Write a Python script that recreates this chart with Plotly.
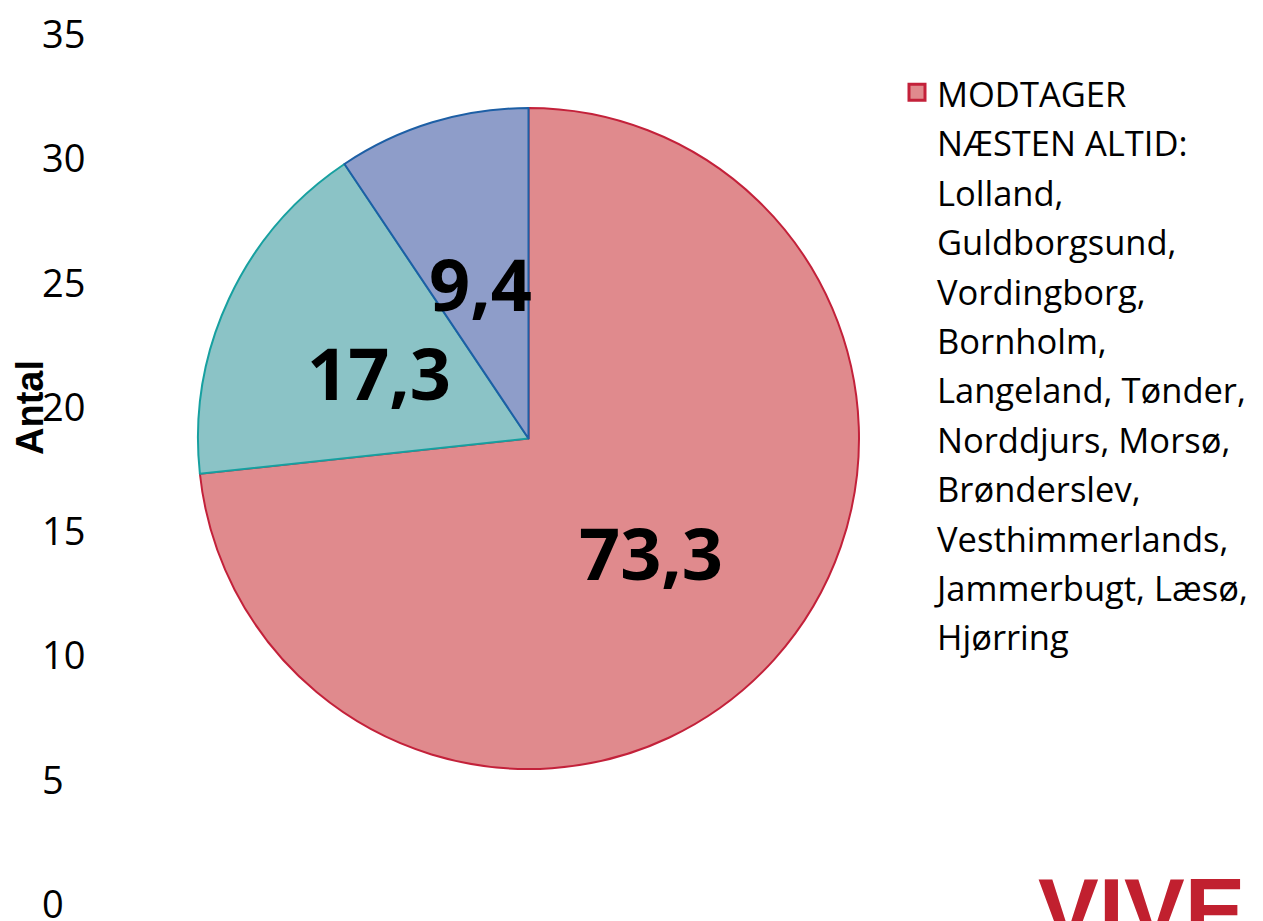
import math
import plotly.graph_objects as go

# ---- data ----
slice_labels = ["MODTAGER NÆSTEN ALTID", "Kategori 2", "Kategori 3"]
slice_values = [73.3, 17.3, 9.4]
slice_text = ["73,3", "17,3", "9,4"]
slice_colors = ["#E08A8D", "#8BC3C6", "#8E9DC9"]
slice_lines = ["#C3213A", "#17A0A0", "#1D5FA5"]

legend_lines = [
    "MODTAGER", "NÆSTEN ALTID:", "Lolland,", "Guldborgsund,", "Vordingborg,",
    "Bornholm,", "Langeland, Tønder,", "Norddjurs, Morsø,", "Brønderslev,",
    "Vesthimmerlands,", "Jammerbugt, Læsø,", "Hjørring",
]

y_ticks = [0, 5, 10, 15, 20, 25, 30, 35]
y_title = "Antal"
logo_text = "VIVE"

# ---- geometry (page pixels; page body has an 8px margin) ----
OFF = 8
W, H = 1255, 913
M_T, M_B = 25, 18
PH = H - M_T - M_B
cx, cy, R = 528.5, 438.5, 330.5


def px_x(p):
    return (p - OFF) / W


def px_y(p):
    return (OFF + H - M_B - p) / PH


fig = go.Figure()

fig.add_trace(go.Pie(
    labels=slice_labels,
    values=slice_values,
    sort=False,
    direction="clockwise",
    rotation=0,
    textinfo="none",
    hoverinfo="label+value",
    showlegend=False,
    marker=dict(colors=slice_colors, line=dict(color=slice_lines, width=2)),
    domain=dict(x=[px_x(cx - R), px_x(cx + R)], y=[px_y(cy + R), px_y(cy - R)]),
))

legend_name = "<br>".join(
    f'<span style="font-size:34.5px">{ln}</span>' for ln in legend_lines
)
fig.add_trace(go.Scatter(
    x=[None], y=[None], mode="markers", name=legend_name, showlegend=True,
    marker=dict(symbol="square", size=16, color=slice_colors[0],
                line=dict(color=slice_lines[0], width=3)),
))

annotations = []
# slice value labels, at half radius along each slice bisector
total = sum(slice_values)
cum = 0.0
for v, t in zip(slice_values, slice_text):
    mid = (cum + v / 2) / total * 2 * math.pi
    cum += v
    lx = cx + 0.5 * R * math.sin(mid)
    ly = cy - 0.5 * R * math.cos(mid) + 3
    annotations.append(dict(
        x=px_x(lx), y=px_y(ly), xref="paper", yref="paper", text=t,
        showarrow=False, xanchor="center", yanchor="middle",
        font=dict(family="Open Sans", size=72, color="black", weight="bold"),
    ))

# y tick labels (left aligned)
for v in y_ticks:
    annotations.append(dict(
        x=px_x(40), y=v, xref="paper", yref="y", text=str(v),
        showarrow=False, xanchor="left", yanchor="middle",
        font=dict(family="Open Sans", size=38, color="black"),
    ))

annotations.append(dict(
    x=px_x(30), y=px_y(408), xref="paper", yref="paper", text=y_title,
    textangle=-90, showarrow=False, xanchor="center", yanchor="middle",
    font=dict(family="Liberation Sans", size=38, color="black", weight="bold"),
))

annotations.append(dict(
    x=px_x(1036), y=px_y(858), xref="paper", yref="paper", text=logo_text,
    showarrow=False, xanchor="left", yanchor="top",
    font=dict(family="Liberation Sans", size=91, color="#C1202F", weight="bold"),
))

fig.update_layout(
    width=W, height=H,
    margin=dict(l=0, r=0, t=M_T, b=M_B, autoexpand=False),
    paper_bgcolor="white", plot_bgcolor="white",
    xaxis=dict(visible=False, range=[0, 1], fixedrange=True),
    yaxis=dict(range=[0, 35], showticklabels=False, showgrid=False,
               zeroline=False, showline=False, ticks="", fixedrange=True),
    showlegend=True,
    legend=dict(
        x=px_x(897), y=px_y(61), xanchor="left", yanchor="top",
        valign="top", bgcolor="rgba(0,0,0,0)", borderwidth=0,
        font=dict(family="Open Sans", size=38, color="black"),
        tracegroupgap=0,
    ),
    annotations=annotations,
)

fig.write_html("out.html")
